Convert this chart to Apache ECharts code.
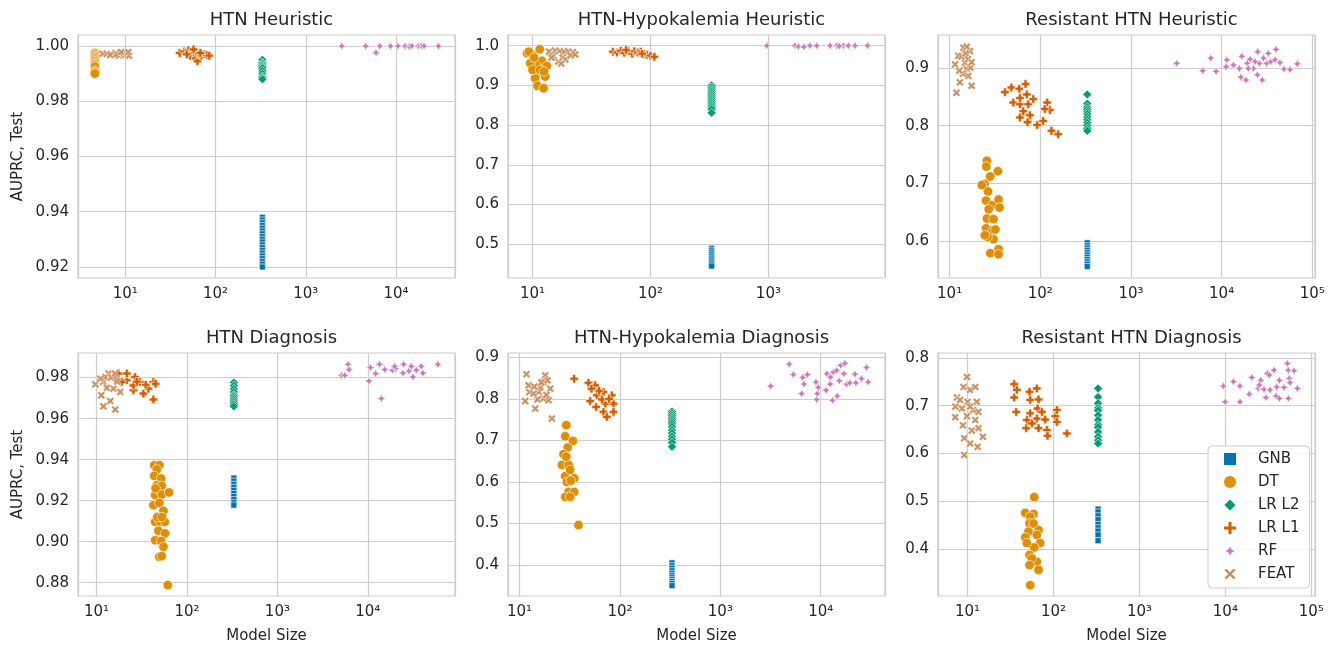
<!DOCTYPE html>
<html>
<head>
<meta charset="utf-8">
<script src="https://cdn.jsdelivr.net/npm/echarts@6/dist/echarts.min.js"></script>
<style>html,body{margin:0;padding:0;background:#fff;}#chart{width:1336px;height:646px;}</style>
</head>
<body>
<div id="chart"></div>
<script>
// ---------- categories / labels ----------
const MODELS = ['GNB', 'DT', 'LR L2', 'LR L1', 'RF', 'FEAT'];
const PANEL_TITLES = ['HTN Heuristic', 'HTN-Hypokalemia Heuristic', 'Resistant HTN Heuristic',
  'HTN Diagnosis', 'HTN-Hypokalemia Diagnosis', 'Resistant HTN Diagnosis'];
const X_NAME = 'Model Size';
const Y_NAME = 'AUPRC, Test';
const X_TICKS = [10, 100, 1000, 10000, 100000];
const Y_TICKS_1 = [0.92, 0.94, 0.96, 0.98, 1.00];
const Y_TICKS_2 = [0.5, 0.6, 0.7, 0.8, 0.9, 1.0];
const Y_TICKS_3 = [0.6, 0.7, 0.8, 0.9];
const Y_TICKS_4 = [0.88, 0.90, 0.92, 0.94, 0.96, 0.98];
const Y_TICKS_5 = [0.4, 0.5, 0.6, 0.7, 0.8, 0.9];
const Y_TICKS_6 = [0.4, 0.5, 0.6, 0.7, 0.8];

// ---------- data: [model size, AUPRC] ----------
// Panel 1: HTN Heuristic
const P1_GNB = [[330,0.938],[330,0.937],[330,0.936],[330,0.935],[330,0.934],[330,0.933],[330,0.932],[330,0.931],[330,0.930],[330,0.929],[330,0.928],[330,0.927],[330,0.926],[330,0.925],[330,0.924],[330,0.923],[330,0.922],[330,0.921],[330,0.920]];
const P1_DT = [[4.6,0.9975],[4.6,0.997],[4.6,0.9965],[4.6,0.996],[4.6,0.9955],[4.6,0.995],[4.6,0.9945],[4.6,0.994],[4.6,0.9935],[4.6,0.993],[4.6,0.9925],[4.6,0.991],[4.6,0.9905],[4.6,0.990]];
const P1_L2 = [[330,0.995],[330,0.994],[330,0.9935],[330,0.993],[330,0.9925],[330,0.992],[330,0.991],[330,0.990],[330,0.989],[330,0.9885],[330,0.988]];
const P1_L1 = [[40,0.9975],[45,0.998],[50,0.9985],[55,0.998],[52,0.9965],[58,0.9975],[60,0.9955],[63,0.9945],[65,0.997],[70,0.9965],[75,0.997],[80,0.9968],[85,0.9965],[48,0.997],[57,0.9988],[68,0.9975]];
const P1_RF = [[2500,1.0],[4600,1.0],[6000,0.9976],[6600,1.0],[8700,1.0],[10500,1.0],[12600,1.0],[14000,0.9998],[15000,1.0],[17600,1.0],[19000,1.0],[20400,1.0],[29500,1.0]];
const P1_FEAT = [[5.6,0.9972],[6.2,0.9972],[7,0.997],[7.8,0.9975],[8.5,0.9965],[9.5,0.997],[10,0.9968],[10.5,0.9972],[11,0.9965],[8,0.997],[9,0.9978],[10.8,0.9978],[6.8,0.9968]];

// Panel 2: HTN-Hypokalemia Heuristic
const P2_GNB = [[330,0.49],[330,0.485],[330,0.48],[330,0.475],[330,0.47],[330,0.465],[330,0.46],[330,0.455],[330,0.45],[330,0.445]];
const P2_DT = [[8.97,0.981],[9.9,0.977],[11.5,0.991],[12,0.962],[10.7,0.951],[13.2,0.949],[9.55,0.956],[11,0.930],[12.8,0.922],[10.5,0.918],[11,0.899],[12.4,0.893],[10,0.939],[11.6,0.939],[9.3,0.985],[10.3,0.97],[12.5,0.935]];
const P2_L2 = [[330,0.90],[330,0.895],[330,0.89],[330,0.885],[330,0.88],[330,0.875],[330,0.87],[330,0.865],[330,0.86],[330,0.855],[330,0.85],[330,0.845],[330,0.84],[330,0.831]];
const P2_L1 = [[48,0.985],[52,0.983],[56,0.987],[60,0.982],[65,0.986],[70,0.98],[73,0.986],[78,0.983],[83,0.985],[88,0.979],[93,0.977],[100,0.975],[108,0.972],[62,0.989],[85,0.98]];
const P2_RF = [[970,1.0],[1680,1.0],[1800,0.998],[2250,1.0],[2570,1.0],[3340,1.0],[3800,1.0],[4330,1.0],[4770,1.0],[5430,1.0],[6950,1.0],[2000,0.997],[4000,0.999]];
const P2_FEAT = [[13.8,0.985],[15.5,0.988],[17,0.987],[18.5,0.985],[20,0.986],[22,0.984],[15,0.975],[16.5,0.96],[18,0.97],[19,0.965],[21,0.975],[23,0.978],[14.5,0.97],[17.5,0.955]];

// Panel 3: Resistant HTN Heuristic
const P3_GNB = [[330,0.597],[330,0.592],[330,0.588],[330,0.584],[330,0.58],[330,0.576],[330,0.572],[330,0.568],[330,0.564],[330,0.56],[330,0.556]];
const P3_DT = [[25.8,0.739],[25.4,0.729],[28.1,0.712],[24.3,0.699],[26.5,0.686],[25.2,0.670],[29.3,0.662],[34.7,0.672],[35.6,0.658],[25.8,0.639],[30.5,0.638],[25.2,0.622],[30,0.619],[30.5,0.603],[26.2,0.607],[28.1,0.579],[34.7,0.586],[34.7,0.577],[34.1,0.721],[22.7,0.697],[27,0.655],[24.5,0.61],[32,0.62]];
const P3_L2 = [[330,0.854],[330,0.838],[330,0.832],[330,0.828],[330,0.824],[330,0.82],[330,0.815],[330,0.81],[330,0.805],[330,0.8],[330,0.795],[330,0.791]];
const P3_L1 = [[40.8,0.858],[48,0.866],[58.6,0.864],[68.8,0.872],[71,0.854],[50.4,0.84],[59.7,0.837],[73.6,0.837],[83.6,0.846],[64.9,0.825],[76.9,0.818],[59.7,0.814],[72.4,0.806],[92.5,0.801],[107.6,0.808],[119,0.84],[127.6,0.827],[133,0.791],[157.8,0.785],[59.7,0.848],[112,0.829]];
const P3_RF = [[3200,0.908],[6190,0.895],[7590,0.917],[8690,0.894],[11400,0.914],[11200,0.902],[13500,0.905],[15700,0.899],[16700,0.920],[16300,0.884],[18600,0.879],[19200,0.908],[20600,0.915],[22400,0.899],[25000,0.928],[26100,0.908],[24800,0.888],[28100,0.879],[28900,0.917],[31400,0.908],[32700,0.925],[34800,0.911],[39800,0.932],[38800,0.914],[44000,0.909],[48700,0.898],[56700,0.897],[68400,0.907],[19700,0.899],[23400,0.911]];
const P3_FEAT = [[11.9,0.857],[11.5,0.906],[12.5,0.921],[14.2,0.935],[15.4,0.898],[13,0.875],[17.5,0.869],[16.1,0.886],[14.8,0.909],[16.8,0.929],[13.5,0.92],[15,0.925],[16,0.915],[17,0.9],[14,0.89],[12.8,0.895],[15.5,0.937],[17.5,0.91]];

// Panel 4: HTN Diagnosis
const P4_GNB = [[330,0.931],[330,0.9295],[330,0.928],[330,0.9265],[330,0.925],[330,0.9235],[330,0.922],[330,0.9205],[330,0.919],[330,0.9178]];
const P4_DT = [[43.6,0.9373],[49.5,0.9373],[46.4,0.9352],[43.4,0.9321],[51.8,0.9308],[46.4,0.9275],[52.7,0.9272],[44.5,0.9227],[52.7,0.923],[63.4,0.924],[42.6,0.9178],[49.5,0.9189],[55,0.915],[44.5,0.9097],[50.5,0.9097],[56.9,0.9097],[48.3,0.9053],[57.3,0.904],[44.5,0.9007],[51.8,0.9003],[55,0.8975],[49.5,0.8926],[52.7,0.8929],[61.4,0.8788],[47,0.912],[53,0.912],[45,0.926]];
const P4_L2 = [[330,0.9776],[330,0.976],[330,0.9745],[330,0.973],[330,0.9715],[330,0.971],[330,0.970],[330,0.969],[330,0.968],[330,0.967],[330,0.966]];
const P4_L1 = [[16.1,0.9795],[21.6,0.9787],[26.7,0.9803],[21.6,0.982],[25.6,0.9738],[33,0.9722],[37.5,0.9746],[42.6,0.9779],[42.6,0.9693],[30.3,0.9779],[17.5,0.982],[25.6,0.9762],[19,0.9779],[28,0.978],[35,0.9765],[45,0.977]];
const P4_RF = [[5120,0.9811],[6050,0.9865],[6210,0.9839],[5560,0.9811],[10300,0.9783],[10700,0.9849],[12200,0.982],[13500,0.9865],[14100,0.9698],[15400,0.9839],[18700,0.9836],[20300,0.9844],[19800,0.9855],[24500,0.9822],[24900,0.9865],[28500,0.9832],[30300,0.9855],[31600,0.9803],[34400,0.9836],[39000,0.9855],[40600,0.9822],[59600,0.9865]];
const P4_FEAT = [[9.7,0.9767],[11.3,0.9714],[11.9,0.966],[14.2,0.9686],[16.1,0.9644],[11.9,0.9779],[13.6,0.982],[15.4,0.9746],[18.3,0.973],[12.5,0.9803],[11,0.9795],[14.5,0.98],[16,0.982],[17,0.978],[13,0.975]];

// Panel 5: HTN-Hypokalemia Diagnosis
const P5_GNB = [[330,0.405],[330,0.398],[330,0.392],[330,0.386],[330,0.38],[330,0.375],[330,0.37],[330,0.365],[330,0.36],[330,0.355],[330,0.35]];
const P5_DT = [[29.2,0.737],[28.5,0.710],[34,0.699],[30.1,0.683],[27.4,0.667],[26.4,0.641],[30.8,0.641],[28.5,0.614],[35,0.609],[29.6,0.600],[32.4,0.603],[30.8,0.576],[35,0.576],[28.5,0.564],[31.9,0.564],[38.6,0.496],[29.2,0.661],[31.9,0.629]];
const P5_L2 = [[330,0.77],[330,0.765],[330,0.76],[330,0.755],[330,0.75],[330,0.745],[330,0.74],[330,0.733],[330,0.725],[330,0.718],[330,0.71],[330,0.703],[330,0.695],[330,0.685]];
const P5_L1 = [[35,0.849],[48.6,0.839],[56.6,0.833],[58.9,0.809],[50.5,0.795],[68.5,0.817],[82.9,0.809],[71.3,0.789],[86.1,0.789],[86.1,0.769],[68.5,0.769],[57.9,0.781],[74.1,0.757],[66.1,0.799],[62,0.82],[78,0.80],[52,0.825]];
const P5_RF = [[3170,0.831],[4860,0.884],[5330,0.859],[6600,0.852],[6810,0.836],[7350,0.859],[6450,0.813],[8960,0.841],[9100,0.799],[9230,0.813],[9450,0.828],[11300,0.821],[11500,0.861],[12400,0.836],[13100,0.797],[13300,0.865],[14400,0.869],[14600,0.807],[15300,0.844],[15800,0.881],[17000,0.861],[17400,0.886],[18100,0.836],[19500,0.839],[21900,0.86],[22400,0.839],[25500,0.849],[28600,0.876],[29700,0.841],[12500,0.853]];
const P5_FEAT = [[11.7,0.860],[12.3,0.833],[12.5,0.817],[11.4,0.795],[14.3,0.777],[15.5,0.817],[16.1,0.828],[17.3,0.841],[18,0.857],[17.3,0.801],[19.5,0.797],[20.2,0.825],[21,0.753],[15.1,0.799],[13.8,0.813],[16.5,0.84],[18.5,0.81],[14,0.83],[19,0.845]];

// Panel 6: Resistant HTN Diagnosis
const P6_GNB = [[330,0.484],[330,0.478],[330,0.47],[330,0.462],[330,0.452],[330,0.445],[330,0.438],[330,0.43],[330,0.418]];
const P6_DT = [[59.7,0.509],[46.9,0.476],[58.5,0.474],[53.6,0.468],[52.6,0.454],[67,0.440],[51.2,0.437],[64,0.430],[46.9,0.425],[70,0.413],[59.7,0.404],[52.6,0.388],[64,0.374],[56,0.381],[52.6,0.367],[67,0.357],[53.6,0.325],[58.5,0.454],[49,0.413]];
const P6_L2 = [[330,0.736],[330,0.718],[330,0.705],[330,0.695],[330,0.69],[330,0.68],[330,0.67],[330,0.66],[330,0.655],[330,0.645],[330,0.635],[330,0.628],[330,0.621]];
const P6_L1 = [[34.9,0.745],[37.5,0.733],[34.9,0.717],[36.8,0.687],[52.6,0.729],[53.5,0.712],[64,0.736],[67,0.713],[65.2,0.694],[49,0.670],[53.5,0.684],[64,0.673],[80,0.671],[48.2,0.653],[67,0.653],[83.8,0.649],[85.2,0.637],[104.7,0.678],[109.5,0.691],[109.5,0.666],[143,0.642],[73.3,0.687],[56.1,0.663]];
const P6_RF = [[9490,0.741],[9930,0.708],[12400,0.750],[14800,0.741],[14800,0.708],[19000,0.724],[20300,0.759],[24200,0.736],[25800,0.753],[28200,0.734],[29700,0.717],[30800,0.767],[36800,0.774],[39600,0.739],[38900,0.720],[42500,0.715],[42500,0.753],[48200,0.738],[52600,0.788],[54100,0.774],[55500,0.757],[56500,0.748],[54100,0.715],[62900,0.773],[68800,0.736],[33100,0.733],[32500,0.764],[24800,0.743]];
const P6_FEAT = [[9.84,0.760],[8.98,0.739],[10.7,0.733],[12.3,0.739],[7.53,0.717],[10,0.708],[12.8,0.708],[7.2,0.698],[8.6,0.694],[11.6,0.691],[13.4,0.687],[7.2,0.676],[9.84,0.678],[12.3,0.670],[8.85,0.659],[11.2,0.648],[13.4,0.653],[9.16,0.632],[15.1,0.635],[10.7,0.621],[13.1,0.614],[9.16,0.597],[8.2,0.712],[10.7,0.698]];

// ---------- axis ranges ----------
const X_RANGES = [[2.99, 44980], [6.19, 9750], [7.45, 107150], [6.24, 92050], [7.67, 43650], [4.53, 110400]];
const Y_RANGES = [[0.916, 1.004], [0.415, 1.027], [0.536, 0.957], [0.8735, 0.992], [0.325, 0.911], [0.3025, 0.810]];
const Y_TICKS = [Y_TICKS_1, Y_TICKS_2, Y_TICKS_3, Y_TICKS_4, Y_TICKS_5, Y_TICKS_6];
const Y_DEC = [2, 1, 1, 2, 1, 1];
const PANEL_DATA = [
  [P1_GNB, P1_DT, P1_L2, P1_L1, P1_RF, P1_FEAT],
  [P2_GNB, P2_DT, P2_L2, P2_L1, P2_RF, P2_FEAT],
  [P3_GNB, P3_DT, P3_L2, P3_L1, P3_RF, P3_FEAT],
  [P4_GNB, P4_DT, P4_L2, P4_L1, P4_RF, P4_FEAT],
  [P5_GNB, P5_DT, P5_L2, P5_L1, P5_RF, P5_FEAT],
  [P6_GNB, P6_DT, P6_L2, P6_L1, P6_RF, P6_FEAT]
];

// ---------- styling ----------
const COLORS = ['#0173b2', '#de8f05', '#029e73', '#d55e00', '#cc78bc', '#ca9161'];
const PLUS = 'path://M-1.3,-3.6 L1.3,-3.6 L1.3,-1.3 L3.6,-1.3 L3.6,1.3 L1.3,1.3 L1.3,3.6 L-1.3,3.6 L-1.3,1.3 L-3.6,1.3 L-3.6,-1.3 L-1.3,-1.3 Z';
const STAR = 'path://M0,-4 L1.3,-1.3 L4,0 L1.3,1.3 L0,4 L-1.3,1.3 L-4,0 L-1.3,-1.3 Z';
const XMARK = 'path://M0,-1.7 L2,-3.7 L3.7,-2 L1.7,0 L3.7,2 L2,3.7 L0,1.7 L-2,3.7 L-3.7,2 L-1.7,0 L-3.7,-2 L-2,-3.7 Z';
const SYMBOLS = ['rect', 'circle', 'diamond', PLUS, STAR, XMARK];
const SIZES = [6, 9.5, 9, 8.5, 8.5, 8];
const LAYOUT = [
  {left: 78, top: 35}, {left: 508, top: 35}, {left: 938, top: 35},
  {left: 78, top: 353}, {left: 508, top: 353}, {left: 938, top: 353}
];
const GW = 377, GH = 243;
const FONT = 'DejaVu Sans';
const TXT = '#262626';
const GRIDC = '#cccccc';
const SUP = {'0':'\u2070','1':'\u00b9','2':'\u00b2','3':'\u00b3','4':'\u2074','5':'\u2075'};

const grids = [], xAxes = [], yAxes = [], series = [], titles = [];
for (let p = 0; p < 6; p++) {
  const L = LAYOUT[p];
  grids.push({left: L.left, top: L.top, width: GW, height: GH, show: true, borderColor: GRIDC, borderWidth: 1.2, backgroundColor: '#fff'});
  titles.push({text: PANEL_TITLES[p], left: L.left + GW / 2, top: L.top - 29, textAlign: 'center',
    textStyle: {fontFamily: FONT, fontSize: 18, fontWeight: 'normal', color: TXT}});
  xAxes.push({
    type: 'log', logBase: 10, gridIndex: p, min: X_RANGES[p][0], max: X_RANGES[p][1],
    name: p >= 3 ? X_NAME : '', nameLocation: 'middle', nameGap: 33,
    nameTextStyle: {fontFamily: FONT, fontSize: 15, color: TXT},
    axisLine: {show: false}, axisTick: {show: false},
    axisLabel: {
      fontFamily: FONT, fontSize: 15, color: TXT, margin: 9, showMinLabel: true, showMaxLabel: true,
      formatter: function (v) {
        const l = Math.log10(v); const r = Math.round(l);
        if (Math.abs(l - r) > 1e-6 || X_TICKS.indexOf(Math.pow(10, r)) < 0) return '';
        return '10' + SUP[String(r)];
      }
    },
    splitLine: {show: true, lineStyle: {color: GRIDC, width: 1.2}}
  });
  const dec = Y_DEC[p];
  yAxes.push({
    type: 'value', gridIndex: p, min: Y_RANGES[p][0], max: Y_RANGES[p][1],
    name: (p === 0 || p === 3) ? Y_NAME : '', nameLocation: 'middle', nameGap: 52, nameRotate: 90,
    nameTextStyle: {fontFamily: FONT, fontSize: 15, color: TXT},
    axisLine: {show: false},
    axisTick: {show: false, customValues: Y_TICKS[p]},
    axisLabel: {fontFamily: FONT, fontSize: 15, color: TXT, margin: 9, customValues: Y_TICKS[p],
      formatter: function (v) { return v.toFixed(dec); }},
    splitLine: {show: true, lineStyle: {color: GRIDC, width: 1.2}}
  });
  for (let m = 0; m < MODELS.length; m++) {
    series.push({
      type: 'scatter', name: MODELS[m], xAxisIndex: p, yAxisIndex: p,
      data: PANEL_DATA[p][m], symbol: SYMBOLS[m], symbolSize: SIZES[m],
      itemStyle: {color: COLORS[m], borderColor: '#ffffff', borderWidth: 0.6, opacity: 1},
      emphasis: {disabled: true}, animation: false
    });
  }
}

const chart = echarts.init(document.getElementById('chart'), null, {renderer: 'canvas'});
chart.setOption({
  backgroundColor: '#ffffff',
  animation: false,
  title: titles,
  grid: grids,
  xAxis: xAxes,
  yAxis: yAxes,
  legend: {
    data: MODELS, orient: 'vertical', left: 1208, top: 446,
    padding: [5, 10, 6, 14], itemWidth: 14, itemHeight: 14, itemGap: 7, symbolKeepAspect: true,
    backgroundColor: 'rgba(255,255,255,0.85)', borderColor: GRIDC, borderWidth: 1, borderRadius: 4,
    textStyle: {fontFamily: FONT, fontSize: 15, color: TXT, lineHeight: 16, padding: [0, 0, 0, 16]},
    selectedMode: false
  },
  series: series
});
</script>
</body>
</html>
